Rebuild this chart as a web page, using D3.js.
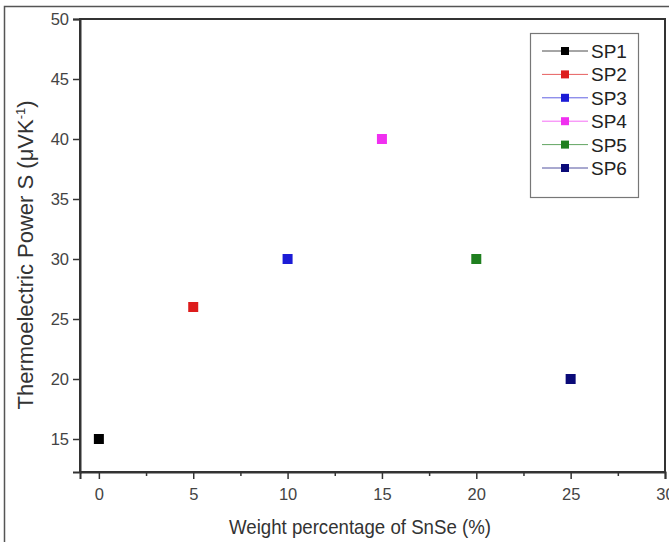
<!DOCTYPE html>
<html><head><meta charset="utf-8">
<script src="https://cdn.jsdelivr.net/npm/d3@7"></script>
<style>body{margin:0;background:#fff}svg{display:block;font-family:"Liberation Sans",Arial,sans-serif}</style>
</head><body><svg id="c" width="669" height="542"></svg>
<script>
const series = ["SP1","SP2","SP3","SP4","SP5","SP6"];
const xValues = [0,5,10,15,20,25];
const yValues = [15,26,30,40,30,20];
const colors = ["#000000","#dd1c1c","#1c1cd6","#f030f0","#1f7f1f","#0a0a78"];
const xTicks = [0,5,10,15,20,25,30];
const xMinor = [2.5,7.5,12.5,17.5,22.5,27.5];
const yTicks = [15,20,25,30,35,40,45,50];

const svg = d3.select("#c");
const L=80,R=665,T=19,B=472;
const x = d3.scaleLinear().domain([-1,30]).range([L,R]);
const y = d3.scaleLinear().domain([12.25,50]).range([B,T]);

// outer frame
svg.append("rect").attr("x",4.5).attr("y",6.5).attr("width",700).attr("height",600)
  .attr("fill","none").attr("stroke","#555").attr("stroke-width",1.5);

// plot box
svg.append("rect").attr("x",L).attr("y",T).attr("width",R-L).attr("height",B-T)
  .attr("fill","none").attr("stroke","#333").attr("stroke-width",2);

svg.append("g").attr("transform",`translate(0,${B})`)
  .call(d3.axisBottom(x).tickValues(xTicks).tickSize(7).tickPadding(9).tickFormat(d3.format("d")));
svg.append("g").attr("transform",`translate(0,${B})`)
  .call(d3.axisBottom(x).tickValues(xMinor).tickSize(4).tickFormat(""))
  .call(g=>g.select(".domain").remove());
svg.append("g").attr("transform",`translate(${L},0)`)
  .call(d3.axisLeft(y).tickValues(yTicks).tickSize(7).tickPadding(4).tickFormat(d3.format("d")));
svg.selectAll(".domain").attr("stroke","#333").attr("stroke-width",2);
svg.selectAll(".tick line").attr("stroke","#333").attr("stroke-width",1.5);
svg.selectAll(".tick text").attr("font-size",16.5).attr("fill","#444").attr("font-family","Liberation Sans, Arial, sans-serif");

// axis titles
svg.append("text").attr("x",360).attr("y",534).attr("text-anchor","middle")
  .attr("font-size",21).attr("fill","#333")
  .attr("textLength",262).attr("lengthAdjust","spacingAndGlyphs")
  .text("Weight percentage of SnSe (%)");
const yt = svg.append("text").attr("transform","translate(33,255) rotate(-90)")
  .attr("text-anchor","middle").attr("font-size",22).attr("fill","#333");
yt.append("tspan").text("Thermoelectric Power S (\u03BCVK");
yt.append("tspan").attr("dy",-8).attr("font-size",13).text("-1");
yt.append("tspan").attr("dy",8).text(")");

// points
const ms=10;
svg.append("g").selectAll("rect").data(series).join("rect")
  .attr("x",(d,i)=>x(xValues[i])-ms/2).attr("y",(d,i)=>y(yValues[i])-ms/2)
  .attr("width",ms).attr("height",ms).attr("fill",(d,i)=>colors[i]);

// legend
const lg = svg.append("g");
lg.append("rect").attr("x",530.5).attr("y",33.5).attr("width",108).attr("height",164)
  .attr("fill","#fff").attr("stroke","#777").attr("stroke-width",1.2);
const ent = lg.selectAll("g.e").data(series).join("g").attr("class","e")
  .attr("transform",(d,i)=>`translate(0,${51+i*23.4})`);
ent.append("line").attr("x1",542).attr("x2",588).attr("y1",0).attr("y2",0)
  .attr("stroke",(d,i)=>colors[i]).attr("stroke-opacity",0.7).attr("stroke-width",1);
ent.append("rect").attr("x",561).attr("y",-4).attr("width",8).attr("height",8).attr("fill",(d,i)=>colors[i]);
ent.append("text").attr("x",591).attr("y",7).attr("font-size",19).attr("fill","#222").text(d=>d);
</script></body></html>
